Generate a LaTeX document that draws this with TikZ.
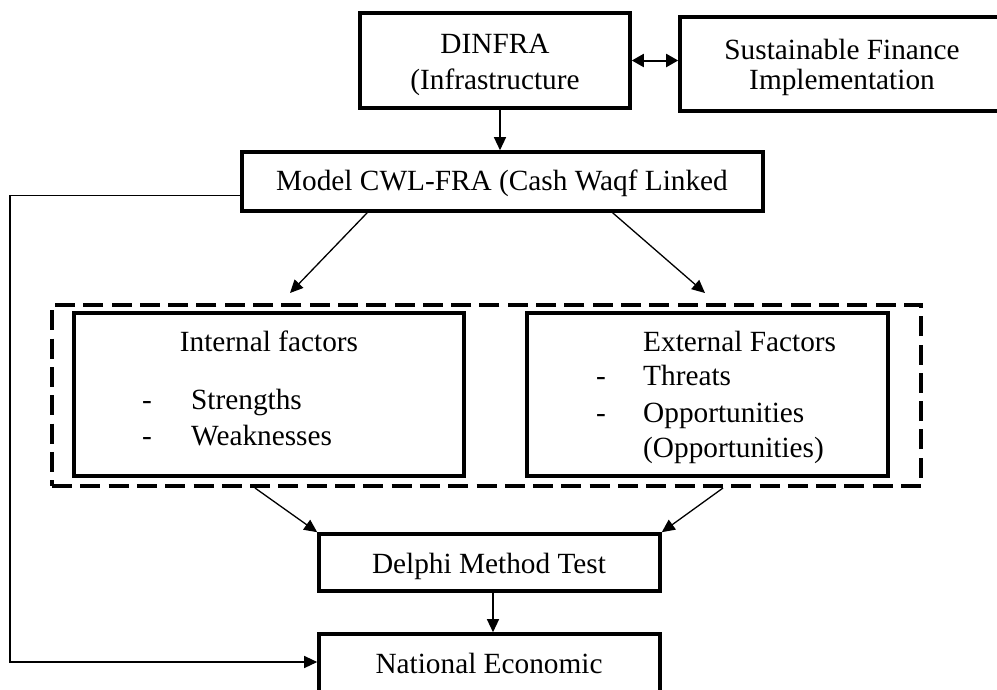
\documentclass[tikz,border=0pt]{standalone}
\usepackage{fontspec}
\setmainfont{Liberation Serif}
\usetikzlibrary{arrows.meta,calc}
\begin{document}
\begin{tikzpicture}[x=1pt,y=-1pt,
  txt/.style={font=\fontsize{29.3}{36}\selectfont,inner sep=0pt},
  box/.style={draw,line width=3.6pt,inner sep=0pt},
  dashbox/.style={draw,line width=4pt,dash pattern=on 20pt off 8.3pt,inner sep=0pt},
  conn/.style={line width=1.3pt,-{Triangle[length=13pt,width=12pt]}},
  dblconn/.style={line width=2pt,{Triangle[length=12pt,width=13pt]}-{Triangle[length=12pt,width=13pt]}}]
\useasboundingbox (0,0) rectangle (997,689);
\clip (0,0) rectangle (997,689);

% boxes
\node[box,minimum width=270pt,minimum height=95pt] (dinfra) at (495,60.5) {};
\node[box,minimum width=340pt,minimum height=94pt] (sust) at (850,64) {};
\node[box,minimum width=521pt,minimum height=59pt] (model) at (502.5,181.5) {};
\node[dashbox,minimum width=869pt,minimum height=181pt] (dashed) at (486.5,395.5) {};
\node[box,minimum width=390pt,minimum height=163pt] (internal) at (269,394.5) {};
\node[box,minimum width=361pt,minimum height=163pt] (external) at (707.5,394.5) {};
\node[box,minimum width=341pt,minimum height=57pt] (delphi) at (489.5,562.5) {};
\node[box,minimum width=341pt,minimum height=76pt] (national) at (489.5,672) {};

% texts
\node[txt,anchor=base] (t1) at (495,53) {DINFRA};
\node[txt,anchor=base] (t2) at (495,89) {(Infrastructure};
\node[txt,anchor=base] (t3) at (842,59) {Sustainable Finance};
\node[txt,anchor=base] (t4) at (842,89) {Implementation};
\node[txt,anchor=base] (t5) at (502,190) {Model CWL-FRA (Cash Waqf Linked};
\node[txt,anchor=base] (t6) at (269,351) {Internal factors};
\node[txt,anchor=base] (d1) at (147,409) {-};
\node[txt,anchor=base west] (t7) at (191,409) {Strengths};
\node[txt,anchor=base] (d2) at (147,445) {-};
\node[txt,anchor=base west] (t8) at (191,445) {Weaknesses};
\node[txt,anchor=base west] (t9) at (643,351) {External Factors};
\node[txt,anchor=base] (d3) at (601,385) {-};
\node[txt,anchor=base west] (t10) at (643,385) {Threats};
\node[txt,anchor=base] (d4) at (601,422) {-};
\node[txt,anchor=base west] (t11) at (643,422) {Opportunities};
\node[txt,anchor=base west] (t12) at (643,457) {(Opportunities)};
\node[txt,anchor=base] (t13) at (489,573) {Delphi Method Test};
\node[txt,anchor=base] (t14) at (489,673) {National Economic};

% connectors
\draw[conn] ([xshift=5pt]dinfra.south) -- ([xshift=5pt]dinfra.south |- model.north);
\draw[dblconn] (dinfra.east) -- (dinfra.east -| sust.west);
\coordinate (e1) at (290,293);
\coordinate (e2) at (705,293);
\draw[conn] ($(model.south west)!0.242!(model.south east)$) -- (e1);
\draw[conn] ($(model.south west)!0.710!(model.south east)$) -- (e2);
\draw[conn] ([xshift=-14pt]internal.south |- dashed.south) -- (delphi.north west);
\draw[conn] ([xshift=15.5pt]external.south |- dashed.south) -- (delphi.north east);
\draw[conn] ([xshift=3.5pt]delphi.south) -- ([xshift=3.5pt]delphi.south |- national.north);
\coordinate (fb) at (10,0);
\draw[conn] ([yshift=-14pt]model.west) -- ([yshift=-14pt]model.west -| fb)
  -- ([yshift=10pt]national.west -| fb) -- ([yshift=10pt]national.west);
\end{tikzpicture}
\end{document}
